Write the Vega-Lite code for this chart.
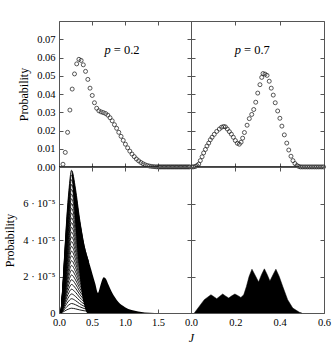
{
  "$schema": "https://vega.github.io/schema/vega-lite/v6.json",
  "padding": {"left": 3, "top": 20, "right": 5, "bottom": 5},
  "columns": 2,
  "spacing": 0,
  "bounds": "flush",
  "config": {
    "font": "Liberation Serif",
    "text": {"font": "Liberation Serif"},
    "view": {"stroke": "#555", "strokeWidth": 1},
    "axis": {
      "domain": false, "grid": false, "tickSize": -4, "tickColor": "#555", "tickWidth": 1,
      "labelPadding": 8, "labelFont": "Liberation Serif", "labelFontSize": 10.5, "labelColor": "#000",
      "titleFont": "Liberation Serif", "titleFontSize": 12, "titleFontWeight": "normal", "titleColor": "#000",
      "labelFlush": false, "labelOverlap": false
    }
  },
  "datasets": {
    "zeroL": [{"J0": 0, "J1": 1.5, "P": 0}],
    "zeroR": [{"J0": 0.02, "J1": 0.49, "P": 0}],
    "p02": [
      {"J":0.060,"P":0.0015},{"J":0.095,"P":0.0080},{"J":0.130,"P":0.0190},{"J":0.165,"P":0.0312},
      {"J":0.200,"P":0.0427},{"J":0.235,"P":0.0510},{"J":0.268,"P":0.0565},{"J":0.302,"P":0.0590},
      {"J":0.335,"P":0.0584},{"J":0.368,"P":0.0560},{"J":0.402,"P":0.0524},{"J":0.437,"P":0.0480},
      {"J":0.470,"P":0.0432},{"J":0.504,"P":0.0392},{"J":0.537,"P":0.0352},{"J":0.571,"P":0.0322},
      {"J":0.604,"P":0.0308},{"J":0.638,"P":0.0302},{"J":0.672,"P":0.0298},{"J":0.706,"P":0.0293},
      {"J":0.740,"P":0.0284},{"J":0.773,"P":0.0270},{"J":0.806,"P":0.0253},{"J":0.840,"P":0.0232},
      {"J":0.873,"P":0.0212},{"J":0.906,"P":0.0190},{"J":0.940,"P":0.0168},{"J":0.973,"P":0.0146},
      {"J":1.006,"P":0.0125},{"J":1.040,"P":0.0105},{"J":1.073,"P":0.0087},{"J":1.106,"P":0.0071},
      {"J":1.140,"P":0.0057},{"J":1.173,"P":0.0044},{"J":1.206,"P":0.0034},{"J":1.240,"P":0.0025},
      {"J":1.273,"P":0.0018},{"J":1.306,"P":0.0012},{"J":1.340,"P":0.0008},{"J":1.373,"P":0.0005},
      {"J":1.406,"P":0.0003},{"J":1.440,"P":0.0002},{"J":1.473,"P":0.0001},{"J":1.500,"P":0.0001},
      {"J":1.52,"P":0.00005},{"J":1.54,"P":0.00005},{"J":1.56,"P":0.00005},{"J":1.58,"P":0.00005},
      {"J":1.60,"P":0.00005},{"J":1.62,"P":0.00005},{"J":1.64,"P":0.00005},{"J":1.66,"P":0.00005},
      {"J":1.68,"P":0.00005},{"J":1.70,"P":0.00005},{"J":1.72,"P":0.00005},{"J":1.74,"P":0.00005},
      {"J":1.76,"P":0.00005},{"J":1.78,"P":0.00005},{"J":1.80,"P":0.00005},{"J":1.82,"P":0.00005},
      {"J":1.84,"P":0.00005},{"J":1.86,"P":0.00005},{"J":1.88,"P":0.00005},{"J":1.90,"P":0.00005},
      {"J":1.92,"P":0.00005},{"J":1.94,"P":0.00005},{"J":1.96,"P":0.00005},{"J":1.98,"P":0.00005}
    ],
    "p07": [
      {"J":0.005,"P":0.00005},{"J":0.012,"P":0.0001},{"J":0.020,"P":0.0003},{"J":0.027,"P":0.0008},
      {"J":0.035,"P":0.0016},{"J":0.042,"P":0.0035},{"J":0.050,"P":0.0056},{"J":0.057,"P":0.0077},
      {"J":0.065,"P":0.0096},{"J":0.072,"P":0.0115},{"J":0.080,"P":0.0131},{"J":0.087,"P":0.0149},
      {"J":0.095,"P":0.0163},{"J":0.105,"P":0.0179},{"J":0.116,"P":0.0195},{"J":0.128,"P":0.0208},
      {"J":0.138,"P":0.0218},{"J":0.147,"P":0.0222},{"J":0.155,"P":0.0220},{"J":0.164,"P":0.0208},
      {"J":0.173,"P":0.0194},{"J":0.182,"P":0.0180},{"J":0.191,"P":0.0163},{"J":0.200,"P":0.0145},
      {"J":0.209,"P":0.0130},{"J":0.218,"P":0.0125},{"J":0.226,"P":0.0136},{"J":0.233,"P":0.0158},
      {"J":0.241,"P":0.0189},{"J":0.253,"P":0.0229},{"J":0.263,"P":0.0265},{"J":0.274,"P":0.0288},
      {"J":0.283,"P":0.0315},{"J":0.292,"P":0.0355},{"J":0.301,"P":0.0405},{"J":0.311,"P":0.0451},
      {"J":0.319,"P":0.0491},{"J":0.325,"P":0.0512},{"J":0.334,"P":0.0509},{"J":0.343,"P":0.0502},
      {"J":0.353,"P":0.0470},{"J":0.362,"P":0.0432},{"J":0.371,"P":0.0394},{"J":0.380,"P":0.0352},
      {"J":0.391,"P":0.0307},{"J":0.401,"P":0.0267},{"J":0.410,"P":0.0224},{"J":0.421,"P":0.0176},
      {"J":0.432,"P":0.0131},{"J":0.441,"P":0.0093},{"J":0.451,"P":0.0059},{"J":0.460,"P":0.0035},
      {"J":0.469,"P":0.0019},{"J":0.478,"P":0.0008},{"J":0.486,"P":0.0003},
      {"J":0.494,"P":0.00005},{"J":0.502,"P":0.00005},{"J":0.510,"P":0.00005},{"J":0.518,"P":0.00005},
      {"J":0.526,"P":0.00005},{"J":0.534,"P":0.00005},{"J":0.542,"P":0.00005},{"J":0.550,"P":0.00005},
      {"J":0.558,"P":0.00005},{"J":0.566,"P":0.00005},{"J":0.574,"P":0.00005},{"J":0.582,"P":0.00005},
      {"J":0.590,"P":0.00005},{"J":0.598,"P":0.00005}
    ],
    "fan": [
      {"c":1,"J":0.03,"P":0},{"c":1,"J":0.06,"P":0.053e-5},{"c":1,"J":0.09,"P":0.117e-5},{"c":1,"J":0.12,"P":0.177e-5},{"c":1,"J":0.15,"P":0.223e-5},{"c":1,"J":0.19,"P":0.261e-5},{"c":1,"J":0.25,"P":0.227e-5},{"c":1,"J":0.31,"P":0.173e-5},{"c":1,"J":0.38,"P":0.123e-5},{"c":1,"J":0.45,"P":0.093e-5},
      {"c":2,"J":0.03,"P":0},{"c":2,"J":0.06,"P":0.107e-5},{"c":2,"J":0.09,"P":0.233e-5},{"c":2,"J":0.12,"P":0.353e-5},{"c":2,"J":0.15,"P":0.447e-5},{"c":2,"J":0.19,"P":0.521e-5},{"c":2,"J":0.25,"P":0.453e-5},{"c":2,"J":0.31,"P":0.347e-5},{"c":2,"J":0.38,"P":0.247e-5},{"c":2,"J":0.45,"P":0.187e-5},
      {"c":3,"J":0.03,"P":0},{"c":3,"J":0.06,"P":0.16e-5},{"c":3,"J":0.09,"P":0.35e-5},{"c":3,"J":0.12,"P":0.53e-5},{"c":3,"J":0.15,"P":0.67e-5},{"c":3,"J":0.19,"P":0.782e-5},{"c":3,"J":0.25,"P":0.68e-5},{"c":3,"J":0.31,"P":0.52e-5},{"c":3,"J":0.38,"P":0.37e-5},{"c":3,"J":0.45,"P":0.28e-5},
      {"c":4,"J":0.03,"P":0},{"c":4,"J":0.06,"P":0.213e-5},{"c":4,"J":0.09,"P":0.467e-5},{"c":4,"J":0.12,"P":0.707e-5},{"c":4,"J":0.15,"P":0.893e-5},{"c":4,"J":0.19,"P":1.043e-5},{"c":4,"J":0.25,"P":0.907e-5},{"c":4,"J":0.31,"P":0.693e-5},{"c":4,"J":0.38,"P":0.493e-5},{"c":4,"J":0.45,"P":0.373e-5},
      {"c":5,"J":0.03,"P":0},{"c":5,"J":0.06,"P":0.267e-5},{"c":5,"J":0.09,"P":0.583e-5},{"c":5,"J":0.12,"P":0.883e-5},{"c":5,"J":0.15,"P":1.117e-5},{"c":5,"J":0.19,"P":1.303e-5},{"c":5,"J":0.25,"P":1.133e-5},{"c":5,"J":0.31,"P":0.867e-5},{"c":5,"J":0.38,"P":0.617e-5},{"c":5,"J":0.45,"P":0.467e-5},
      {"c":6,"J":0.03,"P":0},{"c":6,"J":0.06,"P":0.32e-5},{"c":6,"J":0.09,"P":0.7e-5},{"c":6,"J":0.12,"P":1.06e-5},{"c":6,"J":0.15,"P":1.34e-5},{"c":6,"J":0.19,"P":1.564e-5},{"c":6,"J":0.25,"P":1.36e-5},{"c":6,"J":0.31,"P":1.04e-5},{"c":6,"J":0.38,"P":0.74e-5},{"c":6,"J":0.45,"P":0.56e-5},
      {"c":7,"J":0.03,"P":0},{"c":7,"J":0.06,"P":0.373e-5},{"c":7,"J":0.09,"P":0.817e-5},{"c":7,"J":0.12,"P":1.237e-5},{"c":7,"J":0.15,"P":1.563e-5},{"c":7,"J":0.19,"P":1.825e-5},{"c":7,"J":0.25,"P":1.587e-5},{"c":7,"J":0.31,"P":1.213e-5},{"c":7,"J":0.38,"P":0.863e-5},{"c":7,"J":0.45,"P":0.653e-5},
      {"c":8,"J":0.03,"P":0},{"c":8,"J":0.06,"P":0.427e-5},{"c":8,"J":0.09,"P":0.933e-5},{"c":8,"J":0.12,"P":1.413e-5},{"c":8,"J":0.15,"P":1.787e-5},{"c":8,"J":0.19,"P":2.085e-5},{"c":8,"J":0.25,"P":1.813e-5},{"c":8,"J":0.31,"P":1.387e-5},{"c":8,"J":0.38,"P":0.987e-5},{"c":8,"J":0.45,"P":0.747e-5},
      {"c":9,"J":0.03,"P":0},{"c":9,"J":0.06,"P":0.48e-5},{"c":9,"J":0.09,"P":1.05e-5},{"c":9,"J":0.12,"P":1.59e-5},{"c":9,"J":0.15,"P":2.01e-5},{"c":9,"J":0.19,"P":2.346e-5},{"c":9,"J":0.25,"P":2.04e-5},{"c":9,"J":0.31,"P":1.56e-5},{"c":9,"J":0.38,"P":1.11e-5},{"c":9,"J":0.45,"P":0.84e-5},
      {"c":10,"J":0.03,"P":0},{"c":10,"J":0.06,"P":0.533e-5},{"c":10,"J":0.09,"P":1.167e-5},{"c":10,"J":0.12,"P":1.767e-5},{"c":10,"J":0.15,"P":2.233e-5},{"c":10,"J":0.19,"P":2.607e-5},{"c":10,"J":0.25,"P":2.267e-5},{"c":10,"J":0.31,"P":1.733e-5},{"c":10,"J":0.38,"P":1.233e-5},{"c":10,"J":0.45,"P":0.933e-5},
      {"c":11,"J":0.03,"P":0},{"c":11,"J":0.06,"P":0.587e-5},{"c":11,"J":0.09,"P":1.283e-5},{"c":11,"J":0.12,"P":1.943e-5},{"c":11,"J":0.15,"P":2.457e-5},{"c":11,"J":0.19,"P":2.867e-5},{"c":11,"J":0.25,"P":2.493e-5},{"c":11,"J":0.31,"P":1.907e-5},{"c":11,"J":0.38,"P":1.357e-5},{"c":11,"J":0.45,"P":1.027e-5},
      {"c":12,"J":0.03,"P":0},{"c":12,"J":0.06,"P":0.64e-5},{"c":12,"J":0.09,"P":1.4e-5},{"c":12,"J":0.12,"P":2.12e-5},{"c":12,"J":0.15,"P":2.68e-5},{"c":12,"J":0.19,"P":3.128e-5},{"c":12,"J":0.25,"P":2.72e-5},{"c":12,"J":0.31,"P":2.08e-5},{"c":12,"J":0.38,"P":1.48e-5},{"c":12,"J":0.45,"P":1.12e-5},
      {"c":13,"J":0.03,"P":0},{"c":13,"J":0.06,"P":0.693e-5},{"c":13,"J":0.09,"P":1.517e-5},{"c":13,"J":0.12,"P":2.297e-5},{"c":13,"J":0.15,"P":2.903e-5},{"c":13,"J":0.19,"P":3.389e-5},{"c":13,"J":0.25,"P":2.947e-5},{"c":13,"J":0.31,"P":2.253e-5},{"c":13,"J":0.38,"P":1.603e-5},{"c":13,"J":0.45,"P":1.213e-5},
      {"c":14,"J":0.03,"P":0},{"c":14,"J":0.06,"P":0.747e-5},{"c":14,"J":0.09,"P":1.633e-5},{"c":14,"J":0.12,"P":2.473e-5},{"c":14,"J":0.15,"P":3.127e-5},{"c":14,"J":0.19,"P":3.649e-5},{"c":14,"J":0.25,"P":3.173e-5},{"c":14,"J":0.31,"P":2.427e-5},{"c":14,"J":0.38,"P":1.727e-5},{"c":14,"J":0.45,"P":1.307e-5},
      {"c":15,"J":0.03,"P":0},{"c":15,"J":0.06,"P":0.8e-5},{"c":15,"J":0.09,"P":1.75e-5},{"c":15,"J":0.12,"P":2.65e-5},{"c":15,"J":0.15,"P":3.35e-5},{"c":15,"J":0.19,"P":3.91e-5},{"c":15,"J":0.25,"P":3.4e-5},{"c":15,"J":0.31,"P":2.6e-5},{"c":15,"J":0.38,"P":1.85e-5},{"c":15,"J":0.45,"P":1.4e-5},
      {"c":16,"J":0.03,"P":0},{"c":16,"J":0.06,"P":0.853e-5},{"c":16,"J":0.09,"P":1.867e-5},{"c":16,"J":0.12,"P":2.827e-5},{"c":16,"J":0.15,"P":3.573e-5},{"c":16,"J":0.19,"P":4.171e-5},{"c":16,"J":0.25,"P":3.627e-5},{"c":16,"J":0.31,"P":2.773e-5},{"c":16,"J":0.38,"P":1.973e-5},{"c":16,"J":0.45,"P":1.493e-5},
      {"c":17,"J":0.03,"P":0},{"c":17,"J":0.06,"P":0.907e-5},{"c":17,"J":0.09,"P":1.983e-5},{"c":17,"J":0.12,"P":3.003e-5},{"c":17,"J":0.15,"P":3.797e-5},{"c":17,"J":0.19,"P":4.431e-5},{"c":17,"J":0.25,"P":3.853e-5},{"c":17,"J":0.31,"P":2.947e-5},{"c":17,"J":0.38,"P":2.097e-5},{"c":17,"J":0.45,"P":1.587e-5},
      {"c":18,"J":0.03,"P":0},{"c":18,"J":0.06,"P":0.96e-5},{"c":18,"J":0.09,"P":2.1e-5},{"c":18,"J":0.12,"P":3.18e-5},{"c":18,"J":0.15,"P":4.02e-5},{"c":18,"J":0.19,"P":4.692e-5},{"c":18,"J":0.25,"P":4.08e-5},{"c":18,"J":0.31,"P":3.12e-5},{"c":18,"J":0.38,"P":2.22e-5},{"c":18,"J":0.45,"P":1.68e-5},
      {"c":19,"J":0.03,"P":0},{"c":19,"J":0.06,"P":1.013e-5},{"c":19,"J":0.09,"P":2.217e-5},{"c":19,"J":0.12,"P":3.357e-5},{"c":19,"J":0.15,"P":4.243e-5},{"c":19,"J":0.19,"P":4.953e-5},{"c":19,"J":0.25,"P":4.307e-5},{"c":19,"J":0.31,"P":3.293e-5},{"c":19,"J":0.38,"P":2.343e-5},{"c":19,"J":0.45,"P":1.773e-5},
      {"c":20,"J":0.03,"P":0},{"c":20,"J":0.06,"P":1.067e-5},{"c":20,"J":0.09,"P":2.333e-5},{"c":20,"J":0.12,"P":3.533e-5},{"c":20,"J":0.15,"P":4.467e-5},{"c":20,"J":0.19,"P":5.213e-5},{"c":20,"J":0.25,"P":4.533e-5},{"c":20,"J":0.31,"P":3.467e-5},{"c":20,"J":0.38,"P":2.467e-5},{"c":20,"J":0.45,"P":1.867e-5},
      {"c":21,"J":0.03,"P":0},{"c":21,"J":0.06,"P":1.12e-5},{"c":21,"J":0.09,"P":2.45e-5},{"c":21,"J":0.12,"P":3.71e-5},{"c":21,"J":0.15,"P":4.69e-5},{"c":21,"J":0.19,"P":5.474e-5},{"c":21,"J":0.25,"P":4.76e-5},{"c":21,"J":0.31,"P":3.64e-5},{"c":21,"J":0.38,"P":2.59e-5},{"c":21,"J":0.45,"P":1.96e-5},
      {"c":22,"J":0.03,"P":0},{"c":22,"J":0.06,"P":1.173e-5},{"c":22,"J":0.09,"P":2.567e-5},{"c":22,"J":0.12,"P":3.887e-5},{"c":22,"J":0.15,"P":4.913e-5},{"c":22,"J":0.19,"P":5.735e-5},{"c":22,"J":0.25,"P":4.987e-5},{"c":22,"J":0.31,"P":3.813e-5},{"c":22,"J":0.38,"P":2.713e-5},{"c":22,"J":0.45,"P":2.053e-5},
      {"c":23,"J":0.03,"P":0},{"c":23,"J":0.06,"P":1.227e-5},{"c":23,"J":0.09,"P":2.683e-5},{"c":23,"J":0.12,"P":4.063e-5},{"c":23,"J":0.15,"P":5.137e-5},{"c":23,"J":0.19,"P":5.995e-5},{"c":23,"J":0.25,"P":5.213e-5},{"c":23,"J":0.31,"P":3.987e-5},{"c":23,"J":0.38,"P":2.837e-5},{"c":23,"J":0.45,"P":2.147e-5},
      {"c":24,"J":0.03,"P":0},{"c":24,"J":0.06,"P":1.28e-5},{"c":24,"J":0.09,"P":2.8e-5},{"c":24,"J":0.12,"P":4.24e-5},{"c":24,"J":0.15,"P":5.36e-5},{"c":24,"J":0.19,"P":6.256e-5},{"c":24,"J":0.25,"P":5.44e-5},{"c":24,"J":0.31,"P":4.16e-5},{"c":24,"J":0.38,"P":2.96e-5},{"c":24,"J":0.45,"P":2.24e-5},
      {"c":25,"J":0.03,"P":0},{"c":25,"J":0.06,"P":1.333e-5},{"c":25,"J":0.09,"P":2.917e-5},{"c":25,"J":0.12,"P":4.417e-5},{"c":25,"J":0.15,"P":5.583e-5},{"c":25,"J":0.19,"P":6.517e-5},{"c":25,"J":0.25,"P":5.667e-5},{"c":25,"J":0.31,"P":4.333e-5},{"c":25,"J":0.38,"P":3.083e-5},{"c":25,"J":0.45,"P":2.333e-5},
      {"c":26,"J":0.03,"P":0},{"c":26,"J":0.06,"P":1.387e-5},{"c":26,"J":0.09,"P":3.033e-5},{"c":26,"J":0.12,"P":4.593e-5},{"c":26,"J":0.15,"P":5.807e-5},{"c":26,"J":0.19,"P":6.777e-5},{"c":26,"J":0.25,"P":5.893e-5},{"c":26,"J":0.31,"P":4.507e-5},{"c":26,"J":0.38,"P":3.207e-5},{"c":26,"J":0.45,"P":2.427e-5},
      {"c":27,"J":0.03,"P":0},{"c":27,"J":0.06,"P":1.44e-5},{"c":27,"J":0.09,"P":3.15e-5},{"c":27,"J":0.12,"P":4.77e-5},{"c":27,"J":0.15,"P":6.03e-5},{"c":27,"J":0.19,"P":7.038e-5},{"c":27,"J":0.25,"P":6.12e-5},{"c":27,"J":0.31,"P":4.68e-5},{"c":27,"J":0.38,"P":3.33e-5},{"c":27,"J":0.45,"P":2.52e-5},
      {"c":28,"J":0.03,"P":0},{"c":28,"J":0.06,"P":1.493e-5},{"c":28,"J":0.09,"P":3.267e-5},{"c":28,"J":0.12,"P":4.947e-5},{"c":28,"J":0.15,"P":6.253e-5},{"c":28,"J":0.19,"P":7.299e-5},{"c":28,"J":0.25,"P":6.347e-5},{"c":28,"J":0.31,"P":4.853e-5},{"c":28,"J":0.38,"P":3.453e-5},{"c":28,"J":0.45,"P":2.613e-5},
      {"c":29,"J":0.03,"P":0},{"c":29,"J":0.06,"P":1.547e-5},{"c":29,"J":0.09,"P":3.383e-5},{"c":29,"J":0.12,"P":5.123e-5},{"c":29,"J":0.15,"P":6.477e-5},{"c":29,"J":0.19,"P":7.559e-5},{"c":29,"J":0.25,"P":6.573e-5},{"c":29,"J":0.31,"P":5.027e-5},{"c":29,"J":0.38,"P":3.577e-5},{"c":29,"J":0.45,"P":2.707e-5},
      {"c":30,"J":0.03,"P":0},{"c":30,"J":0.06,"P":1.6e-5},{"c":30,"J":0.09,"P":3.5e-5},{"c":30,"J":0.12,"P":5.3e-5},{"c":30,"J":0.15,"P":6.7e-5},{"c":30,"J":0.19,"P":7.82e-5},{"c":30,"J":0.25,"P":6.8e-5},{"c":30,"J":0.31,"P":5.2e-5},{"c":30,"J":0.38,"P":3.7e-5},{"c":30,"J":0.45,"P":2.8e-5}
    ],
    "band": [
      {"J":0.19,"top":7.82e-5,"bot":7.82e-5},{"J":0.22,"top":7.5e-5,"bot":6.3e-5},{"J":0.25,"top":6.8e-5,"bot":4.8e-5},
      {"J":0.28,"top":6.0e-5,"bot":3.4e-5},{"J":0.31,"top":5.2e-5,"bot":2.2e-5},{"J":0.34,"top":4.6e-5,"bot":1.2e-5},
      {"J":0.38,"top":3.8e-5,"bot":0.45e-5},{"J":0.43,"top":3.1e-5,"bot":0},{"J":0.47,"top":2.6e-5,"bot":0},
      {"J":0.51,"top":2.1e-5,"bot":0},{"J":0.55,"top":1.6e-5,"bot":0},{"J":0.59,"top":1.1e-5,"bot":0},
      {"J":0.63,"top":1.55e-5,"bot":0},{"J":0.66,"top":1.88e-5,"bot":0},{"J":0.68,"top":1.96e-5,"bot":0},
      {"J":0.71,"top":1.88e-5,"bot":0},{"J":0.75,"top":1.55e-5,"bot":0},{"J":0.80,"top":1.15e-5,"bot":0},
      {"J":0.85,"top":0.85e-5,"bot":0},{"J":0.90,"top":0.6e-5,"bot":0},{"J":1.00,"top":0.32e-5,"bot":0},
      {"J":1.10,"top":0.16e-5,"bot":0},{"J":1.20,"top":0.08e-5,"bot":0},{"J":1.30,"top":0.03e-5,"bot":0},
      {"J":1.45,"top":0,"bot":0}
    ],
    "br": [
      {"J":0.015,"P":0},{"J":0.037,"P":0.36e-5},{"J":0.06,"P":0.73e-5},{"J":0.09,"P":1.0e-5},
      {"J":0.105,"P":0.88e-5},{"J":0.116,"P":0.78e-5},{"J":0.13,"P":0.92e-5},{"J":0.143,"P":1.04e-5},
      {"J":0.157,"P":0.92e-5},{"J":0.17,"P":0.82e-5},{"J":0.184,"P":0.94e-5},{"J":0.198,"P":1.04e-5},
      {"J":0.212,"P":0.95e-5},{"J":0.225,"P":0.85e-5},{"J":0.238,"P":1.0e-5},{"J":0.25,"P":1.45e-5},
      {"J":0.262,"P":2.0e-5},{"J":0.275,"P":2.4e-5},{"J":0.29,"P":2.05e-5},{"J":0.305,"P":1.7e-5},
      {"J":0.318,"P":2.1e-5},{"J":0.331,"P":2.42e-5},{"J":0.344,"P":2.1e-5},{"J":0.356,"P":1.75e-5},
      {"J":0.37,"P":2.1e-5},{"J":0.383,"P":2.4e-5},{"J":0.398,"P":2.0e-5},{"J":0.414,"P":1.45e-5},
      {"J":0.436,"P":0.73e-5},{"J":0.459,"P":0.27e-5},{"J":0.489,"P":0.04e-5},{"J":0.5,"P":0}
    ]
  },
  "concat": [
    {
      "width": 132, "height": 146,
      "resolve": {"axis": {"x": "independent", "y": "independent"}},
      "layer": [
        {
          "data": {"name": "zeroL"},
          "mark": {"type": "rule", "color": "#000", "strokeWidth": 1.5},
          "encoding": {
            "x": {"field": "J0", "type": "quantitative", "scale": {"domain": [0, 2]}, "axis": {"orient": "top", "labels": false, "title": null, "values": [0, 0.5, 1, 1.5, 2]}},
            "x2": {"field": "J1"},
            "y": {"field": "P", "type": "quantitative", "scale": {"domain": [0, 0.07]}, "axis": {"orient": "right", "labels": false, "title": null, "values": [0, 0.01, 0.02, 0.03, 0.04, 0.05, 0.06, 0.07]}}
          }
        },
        {
          "data": {"name": "p02"},
          "mark": {"type": "point", "shape": "circle", "size": 16, "filled": false, "stroke": "#222", "strokeWidth": 0.75, "opacity": 1},
          "encoding": {
            "x": {"field": "J", "type": "quantitative", "scale": {"domain": [0, 2]}, "axis": {"orient": "bottom", "labels": false, "title": null, "values": [0, 0.5, 1, 1.5, 2]}},
            "y": {"field": "P", "type": "quantitative", "scale": {"domain": [0, 0.07]}, "axis": {"orient": "left", "title": "Probability", "titlePadding": 6, "format": ".2f", "values": [0, 0.01, 0.02, 0.03, 0.04, 0.05, 0.06, 0.07]}}
          }
        },
        {
          "data": {"values": [{}]},
          "mark": {"type": "text", "text": "p", "fontStyle": "italic", "fontSize": 12.5, "align": "right", "baseline": "alphabetic", "dx": -1},
          "encoding": {"x": {"datum": 0.8, "type": "quantitative", "axis": null}, "y": {"datum": 0.0618, "type": "quantitative", "axis": null}}
        },
        {
          "data": {"values": [{}]},
          "mark": {"type": "text", "text": "= 0.2", "fontSize": 12.5, "align": "left", "baseline": "alphabetic", "dx": 2},
          "encoding": {"x": {"datum": 0.8, "type": "quantitative", "axis": null}, "y": {"datum": 0.0618, "type": "quantitative", "axis": null}}
        }
      ]
    },
    {
      "width": 133, "height": 146,
      "resolve": {"axis": {"x": "independent", "y": "independent"}},
      "layer": [
        {
          "data": {"name": "zeroR"},
          "mark": {"type": "rule", "color": "#000", "strokeWidth": 1.5},
          "encoding": {
            "x": {"field": "J0", "type": "quantitative", "scale": {"domain": [0, 0.6]}, "axis": {"orient": "top", "labels": false, "title": null, "values": [0, 0.2, 0.4, 0.6]}},
            "x2": {"field": "J1"},
            "y": {"field": "P", "type": "quantitative", "scale": {"domain": [0, 0.07]}, "axis": {"orient": "right", "labels": false, "title": null, "values": [0, 0.01, 0.02, 0.03, 0.04, 0.05, 0.06, 0.07]}}
          }
        },
        {
          "data": {"name": "p07"},
          "mark": {"type": "point", "shape": "circle", "size": 16, "filled": false, "stroke": "#222", "strokeWidth": 0.75, "opacity": 1},
          "encoding": {
            "x": {"field": "J", "type": "quantitative", "scale": {"domain": [0, 0.6]}, "axis": {"orient": "bottom", "labels": false, "title": null, "values": [0, 0.2, 0.4, 0.6]}},
            "y": {"field": "P", "type": "quantitative", "scale": {"domain": [0, 0.07]}, "axis": {"orient": "left", "labels": false, "title": null, "values": [0, 0.01, 0.02, 0.03, 0.04, 0.05, 0.06, 0.07]}}
          }
        },
        {
          "data": {"values": [{}]},
          "mark": {"type": "text", "text": "p", "fontStyle": "italic", "fontSize": 12.5, "align": "right", "baseline": "alphabetic", "dx": -1},
          "encoding": {"x": {"datum": 0.23, "type": "quantitative", "axis": null}, "y": {"datum": 0.0618, "type": "quantitative", "axis": null}}
        },
        {
          "data": {"values": [{}]},
          "mark": {"type": "text", "text": "= 0.7", "fontSize": 12.5, "align": "left", "baseline": "alphabetic", "dx": 2},
          "encoding": {"x": {"datum": 0.23, "type": "quantitative", "axis": null}, "y": {"datum": 0.0618, "type": "quantitative", "axis": null}}
        }
      ]
    },
    {
      "width": 132, "height": 146,
      "resolve": {"axis": {"x": "independent", "y": "independent"}},
      "layer": [
        {
          "data": {"name": "fan"},
          "mark": {"type": "line", "color": "#000", "strokeWidth": 0.9, "interpolate": "monotone"},
          "encoding": {
            "detail": {"field": "c", "type": "nominal"},
            "x": {"field": "J", "type": "quantitative", "scale": {"domain": [0, 2]}, "axis": {"orient": "bottom", "format": ".1f", "values": [0, 0.5, 1, 1.5], "title": "J", "titleFontStyle": "italic", "titleX": 132, "titleY": 19, "titleAlign": "center", "titleBaseline": "top"}},
            "y": {"field": "P", "type": "quantitative", "scale": {"domain": [0, 8e-5]}, "axis": {"orient": "left", "title": "Probability", "titlePadding": 6, "values": [0, 2e-5, 4e-5, 6e-5, 8e-5], "labelExpr": "datum.value == 0 ? '0' : (datum.value > 7e-5 ? '' : format(datum.value * 1e5, 'd') + ' · 10⁻⁵')"}}
          }
        },
        {
          "data": {"name": "band"},
          "mark": {"type": "area", "color": "#000", "interpolate": "monotone"},
          "encoding": {
            "x": {"field": "J", "type": "quantitative", "scale": {"domain": [0, 2]}, "axis": {"orient": "top", "labels": false, "title": null, "values": [0, 0.5, 1, 1.5, 2]}},
            "y": {"field": "top", "type": "quantitative", "scale": {"domain": [0, 8e-5]}, "axis": {"orient": "right", "labels": false, "title": null, "values": [0, 2e-5, 4e-5, 6e-5, 8e-5]}},
            "y2": {"field": "bot"}
          }
        }
      ]
    },
    {
      "width": 133, "height": 146,
      "resolve": {"axis": {"x": "independent", "y": "independent"}},
      "layer": [
        {
          "data": {"name": "br"},
          "mark": {"type": "area", "color": "#000"},
          "encoding": {
            "x": {"field": "J", "type": "quantitative", "scale": {"domain": [0, 0.6]}, "axis": {"orient": "bottom", "format": ".1f", "values": [0, 0.2, 0.4, 0.6], "title": null}},
            "y": {"field": "P", "type": "quantitative", "scale": {"domain": [0, 8e-5]}, "axis": {"orient": "left", "labels": false, "title": null, "values": [0, 2e-5, 4e-5, 6e-5, 8e-5]}}
          }
        },
        {
          "data": {"name": "br"},
          "mark": {"type": "line", "color": "#000", "strokeWidth": 0.5},
          "encoding": {
            "x": {"field": "J", "type": "quantitative", "scale": {"domain": [0, 0.6]}, "axis": {"orient": "top", "labels": false, "title": null, "values": [0, 0.2, 0.4, 0.6]}},
            "y": {"field": "P", "type": "quantitative", "scale": {"domain": [0, 8e-5]}, "axis": {"orient": "right", "labels": false, "title": null, "values": [0, 2e-5, 4e-5, 6e-5, 8e-5]}}
          }
        }
      ]
    }
  ]
}
